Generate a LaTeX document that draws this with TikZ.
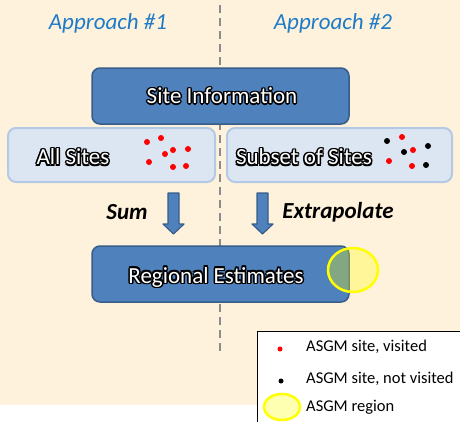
\documentclass[tikz,border=0pt]{standalone}
\usepackage{fontspec}
\setmainfont{Carlito}
\usetikzlibrary{calc}
\definecolor{paper}{HTML}{FFF2DC}
\definecolor{boxblue}{HTML}{4F81BD}
\definecolor{boxedge}{HTML}{385D8A}
\definecolor{paleblue}{HTML}{DCE6F2}
\definecolor{paleedge}{HTML}{B4C9E4}
\definecolor{headblue}{HTML}{1F7BC8}
\definecolor{divider}{HTML}{8C8C8C}
\definecolor{visited}{HTML}{FF0000}
\definecolor{region}{HTML}{FFFF00}
% one copy of the text, shifted by (#1,#2), in black
\newcommand{\halocopy}[3]{\makebox[0pt][l]{\kern#1\raisebox{#2}{\textcolor{black}{#3}}}}
% white text with a black halo, as in the boxes
\newcommand{\halotext}[1]{%
  \halocopy{1.5pt}{0pt}{#1}\halocopy{-1.5pt}{0pt}{#1}%
  \halocopy{0pt}{1.5pt}{#1}\halocopy{0pt}{-1.5pt}{#1}%
  \halocopy{1.1pt}{1.1pt}{#1}\halocopy{-1.1pt}{1.1pt}{#1}%
  \halocopy{1.1pt}{-1.1pt}{#1}\halocopy{-1.1pt}{-1.1pt}{#1}%
  \textcolor{white}{#1}}
\newcommand{\site}[3]{\fill[#1] (#2,#3) circle (3pt);}
% block arrow from the shaft top #1 to the tip #2
\newcommand{\fatarrow}[2]{%
  \draw[blockarrow] ($(#1)+(-5.5,0)$) -- ($(#1)+(5.5,0)$) -- ($(#2)+(5.5,-10)$)
    -- ($(#2)+(10.5,-10)$) -- (#2) -- ($(#2)+(-10.5,-10)$) -- ($(#2)+(-5.5,-10)$) -- cycle;}

\begin{document}
\begin{tikzpicture}[x=1pt, y=-1pt, line join=round,
  darkbox/.style={draw=boxedge, fill=boxblue, line width=1.5pt, rounded corners=8pt, inner sep=0pt},
  palebox/.style={draw=paleedge, fill=paleblue, line width=2pt, rounded corners=8pt, inner sep=0pt},
  boxlabel/.style={font=\fontsize{23}{26}\selectfont, inner sep=0pt},
  heading/.style={font=\fontsize{23}{26}\selectfont\itshape, text=headblue, inner sep=0pt},
  verb/.style={font=\fontsize{23}{26}\selectfont\bfseries\itshape, inner sep=0pt},
  blockarrow/.style={draw=boxedge, fill=boxblue, line width=1.2pt},
  regionmark/.style={draw=region, fill=region, fill opacity=.3, line width=2.5pt},
  legendtext/.style={font=\fontsize{16.5}{19}\selectfont, anchor=west, inner sep=0pt}]

\clip (0,0) rectangle (460,421);
\fill[paper] (0,0) rectangle (460,405);

% ================= the two approaches =================
\draw[divider, line width=2pt, dash pattern=on 8pt off 5pt] (220,5) -- (220,353);
\node[heading] (app1) at (108,23) {Approach \#1};
\node[heading] (app2) at (333,23) {Approach \#2};

% ================= boxes =================
\node[darkbox, minimum width=257pt, minimum height=56pt] (info) at (220.5,96) {};
\node[palebox, minimum width=207pt, minimum height=54pt] (all) at (111.5,155) {};
\node[palebox, minimum width=225pt, minimum height=54pt] (subset) at (339.5,155) {};
\node[darkbox, minimum width=257pt, minimum height=56pt] (regional) at (220.5,274) {};

\node[boxlabel] (info-t) at (222,96) {\halotext{Site Information}};
\node[boxlabel] (all-t) at (73,157) {\halotext{All Sites}};
\node[boxlabel] (subset-t) at (304,157) {\halotext{Subset of Sites}};
\node[boxlabel] (regional-t) at (216,277) {\halotext{Regional Estimates}};

% all sites: every one visited
\site{visited}{147}{142}
\site{visited}{161}{138}
\site{visited}{149}{162}
\site{visited}{165}{154}
\site{visited}{173}{150}
\site{visited}{188}{149}
\site{visited}{173}{167}
\site{visited}{186}{166}
% subset: some visited, some not
\site{visited}{402}{137}
\site{visited}{413}{150}
\site{visited}{389}{161}
\site{visited}{412}{166}
\site{black}{387}{141}
\site{black}{404}{152}
\site{black}{428}{146}
\site{black}{426}{165}

% ================= arrows =================
\coordinate (sum-top) at (173.5,193);
\coordinate (sum-tip) at (173.5,234);
\coordinate (ext-top) at (262.5,193);
\coordinate (ext-tip) at (262.5,234);
\fatarrow{sum-top}{sum-tip}
\fatarrow{ext-top}{ext-tip}
\node[verb] (sum) at (127,212) {Sum};
\node[verb] (extra) at (338,212) {Extrapolate};

% region over the estimates box
\draw[regionmark] (353,270) ellipse (25pt and 22pt);

% ================= legend =================
\draw[black, fill=white, line width=1pt] (257,331) rectangle (462,423);
\fill[visited] (280,349) circle (2.5pt);
\fill[black] (281,381) circle (2.5pt);
\draw[regionmark] (282,407) ellipse (18pt and 13pt);
\node[legendtext] (leg1) at (306,347) {ASGM site, visited};
\node[legendtext] (leg2) at (306,379) {ASGM site, not visited};
\node[legendtext] (leg3) at (306,407) {ASGM region};

\end{tikzpicture}
\end{document}
